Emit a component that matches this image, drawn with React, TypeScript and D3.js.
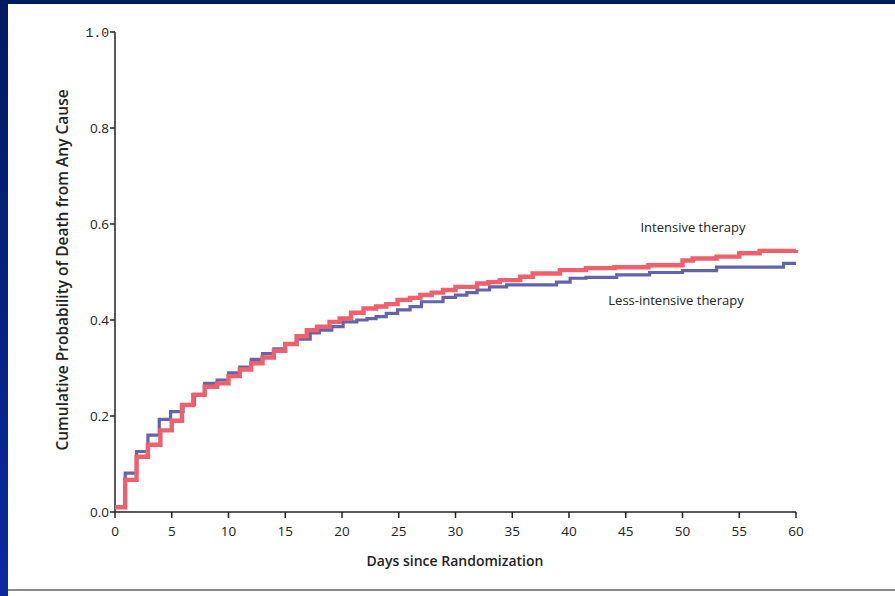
import React, { useEffect, useRef } from 'react';
import * as d3 from 'd3';

// Kaplan-Meier style cumulative curves
const intensiveDays = [0, 0.9, 1.9, 2.9, 4, 5, 5.9, 6.9, 7.9, 9, 10, 11, 12, 13, 14, 15, 16, 16.9, 17.8, 18.9, 19.8, 20.8, 21.9, 23, 23.9, 24.9, 26, 26.9, 27.9, 28.9, 30, 31.9, 32.9, 33.9, 35.7, 36.8, 39.2, 41.5, 44, 47, 50, 50.9, 53, 55, 56.8, 60];
const intensiveProb = [0.01, 0.067, 0.115, 0.14, 0.17, 0.19, 0.223, 0.244, 0.261, 0.268, 0.283, 0.297, 0.31, 0.322, 0.336, 0.35, 0.366, 0.379, 0.386, 0.396, 0.403, 0.415, 0.424, 0.428, 0.433, 0.442, 0.446, 0.452, 0.457, 0.4625, 0.469, 0.476, 0.479, 0.483, 0.49, 0.497, 0.504, 0.508, 0.51, 0.514, 0.524, 0.528, 0.532, 0.539, 0.544, 0.546];

const lessDays = [0, 0.9, 1.9, 2.9, 3.9, 4.9, 6, 7, 7.9, 9, 10, 11, 12, 13, 14, 15, 16, 17.2, 18, 19.1, 20.1, 21.3, 22.2, 23, 23.9, 24.9, 26, 27, 28.9, 30, 31, 31.9, 33, 34.5, 38.9, 40.1, 41.5, 44.2, 47.1, 50, 53, 58.9, 60];
const lessProb = [0.01, 0.081, 0.126, 0.16, 0.193, 0.209, 0.224, 0.245, 0.268, 0.275, 0.29, 0.302, 0.318, 0.33, 0.34, 0.35, 0.36, 0.373, 0.379, 0.386, 0.396, 0.4, 0.403, 0.407, 0.414, 0.421, 0.428, 0.438, 0.447, 0.452, 0.457, 0.4625, 0.469, 0.473, 0.479, 0.487, 0.489, 0.494, 0.499, 0.503, 0.51, 0.518, 0.518];

const xTicks = [0, 5, 10, 15, 20, 25, 30, 35, 40, 45, 50, 55, 60];
const yTicks = [0, 0.2, 0.4, 0.6, 0.8, 1.0];

const App = () => {
    const svgRef = useRef<SVGSVGElement>(null);
    const width = 895;
    const height = 596;
    const font = "'Open Sans', 'DejaVu Sans', sans-serif";

    useEffect(() => {
        const svg = d3.select(svgRef.current);
        svg.selectAll("*").remove();

        // frame
        const defs = svg.append("defs");
        const grad = defs.append("linearGradient")
            .attr("id", "leftbar")
            .attr("x1", 0).attr("y1", 0).attr("x2", 0).attr("y2", 1);
        grad.append("stop").attr("offset", "0%").attr("stop-color", "#001a62");
        grad.append("stop").attr("offset", "100%").attr("stop-color", "#0a2aa0");

        svg.append("rect").attr("width", width).attr("height", height).attr("fill", "#ffffff");
        svg.append("rect").attr("width", width).attr("height", 4).attr("fill", "#001a5e");
        svg.append("rect").attr("width", 8).attr("height", height).attr("fill", "url(#leftbar)");
        svg.append("line")
            .attr("x1", 8).attr("x2", width)
            .attr("y1", 590).attr("y2", 590)
            .attr("stroke", "#8a8a8a").attr("stroke-width", 2);

        const xScale = d3.scaleLinear().domain([0, 60]).range([115, 796]);
        const yScale = d3.scaleLinear().domain([0, 1]).range([512, 32]);

        const g = svg.append("g");

        // y axis
        g.append("line")
            .attr("x1", xScale(0)).attr("x2", xScale(0))
            .attr("y1", yScale(1)).attr("y2", yScale(0))
            .attr("stroke", "#222").attr("stroke-width", 1.5);
        g.selectAll(".ytick")
            .data(yTicks)
            .join("line")
            .attr("class", "ytick")
            .attr("x1", xScale(0) - 5).attr("x2", xScale(0))
            .attr("y1", d => yScale(d)).attr("y2", d => yScale(d))
            .attr("stroke", "#222").attr("stroke-width", 1.5);
        g.selectAll(".ylab")
            .data(yTicks)
            .join("text")
            .attr("class", "ylab")
            .attr("x", xScale(0) - 6)
            .attr("y", d => yScale(d))
            .attr("dy", "0.35em")
            .attr("text-anchor", "end")
            .style("font-family", d => d === 1 ? "'Liberation Mono', monospace" : font)
            .style("font-size", d => d === 1 ? "13px" : "13.5px")
            .attr("fill", "#222")
            .text(d => d3.format(".1f")(d));

        // x axis
        g.append("line")
            .attr("x1", xScale(0)).attr("x2", xScale(60))
            .attr("y1", yScale(0)).attr("y2", yScale(0))
            .attr("stroke", "#222").attr("stroke-width", 1.5);
        g.selectAll(".xtick")
            .data(xTicks)
            .join("line")
            .attr("class", "xtick")
            .attr("x1", d => xScale(d)).attr("x2", d => xScale(d))
            .attr("y1", yScale(0)).attr("y2", yScale(0) + 6)
            .attr("stroke", "#222").attr("stroke-width", 1.5);
        g.selectAll(".xlab")
            .data(xTicks)
            .join("text")
            .attr("class", "xlab")
            .attr("x", d => xScale(d))
            .attr("y", 536)
            .attr("text-anchor", "middle")
            .style("font-family", font)
            .style("font-size", "13.5px")
            .attr("fill", "#222")
            .text(d => d);

        // axis titles
        g.append("text")
            .attr("x", 455).attr("y", 566)
            .attr("text-anchor", "middle")
            .style("font-family", font)
            .style("font-size", "14px")
            .style("font-weight", 600)
            .attr("fill", "#222")
            .text("Days since Randomization");
        g.append("text")
            .attr("transform", "translate(68, 270) rotate(-90)")
            .attr("text-anchor", "middle")
            .style("font-family", font)
            .style("font-size", "15.5px")
            .style("font-weight", 600)
            .attr("fill", "#222")
            .text("Cumulative Probability of Death from Any Cause");

        // curves
        const line = d3.line<[number, number]>()
            .x(d => xScale(d[0]))
            .y(d => yScale(d[1]))
            .curve(d3.curveStepAfter);

        const lessData = lessDays.map((d, i) => [d, lessProb[i]] as [number, number]);
        const intData = intensiveDays.map((d, i) => [d, intensiveProb[i]] as [number, number]);

        g.append("path")
            .datum(lessData)
            .attr("d", line)
            .attr("fill", "none")
            .attr("stroke", "#6464ae")
            .attr("stroke-width", 3.2);
        g.append("path")
            .datum(intData)
            .attr("d", line)
            .attr("fill", "none")
            .attr("stroke", "#f0606c")
            .attr("stroke-width", 4.4);

        // labels
        g.append("text")
            .attr("x", 693).attr("y", 232)
            .attr("text-anchor", "middle")
            .style("font-family", font)
            .style("font-size", "13px")
            .attr("fill", "#222")
            .text("Intensive therapy");
        g.append("text")
            .attr("x", 676).attr("y", 305)
            .attr("text-anchor", "middle")
            .style("font-family", font)
            .style("font-size", "13px")
            .attr("fill", "#222")
            .text("Less-intensive therapy");
    }, []);

    return (
        <div style={{ position: "fixed", left: 0, top: 0 }}>
            <svg ref={svgRef} width={width} height={height} style={{ display: "block" }}></svg>
        </div>
    );
};

export default App;
